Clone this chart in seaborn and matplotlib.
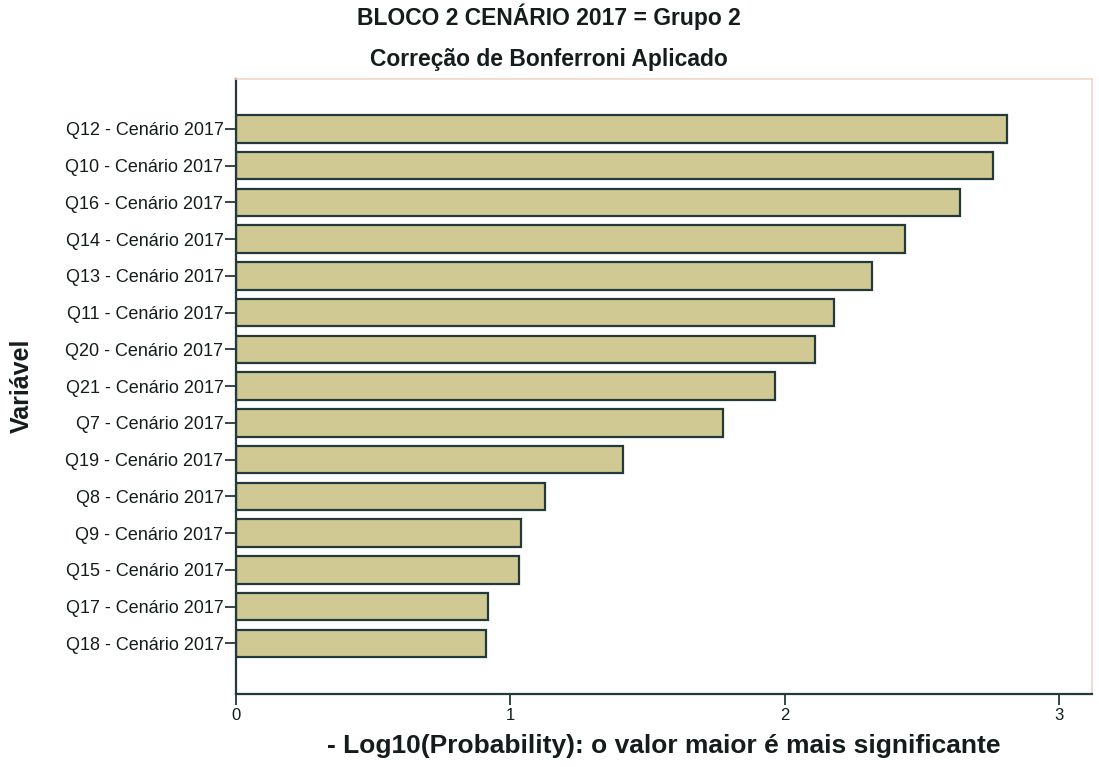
import pandas as pd
import numpy as np
import matplotlib.pyplot as plt
import seaborn as sns

# --- dados ---
variaveis = ['Q12 - Cenário 2017', 'Q10 - Cenário 2017', 'Q16 - Cenário 2017',
             'Q14 - Cenário 2017', 'Q13 - Cenário 2017', 'Q11 - Cenário 2017',
             'Q20 - Cenário 2017', 'Q21 - Cenário 2017', 'Q7 - Cenário 2017',
             'Q19 - Cenário 2017', 'Q8 - Cenário 2017', 'Q9 - Cenário 2017',
             'Q15 - Cenário 2017', 'Q17 - Cenário 2017', 'Q18 - Cenário 2017']
log_prob = [2.81, 2.76, 2.64, 2.44, 2.32, 2.18, 2.11, 1.965, 1.775,
            1.41, 1.125, 1.04, 1.03, 0.92, 0.91]
xticks = [0, 1, 2, 3]

titulo_1 = 'BLOCO 2 CENÁRIO 2017 = Grupo 2'
titulo_2 = 'Correção de Bonferroni Aplicado'
rotulo_x = '- Log10(Probability): o valor maior é mais significante'
rotulo_y = 'Variável'

cor_barra = '#d1c993'
cor_borda = '#233a3a'
cor_texto = '#141c1c'

df = pd.DataFrame({'Variavel': variaveis, 'Valor': log_prob})

sns.set_style('ticks')
plt.rcParams['font.family'] = ['Liberation Sans', 'DejaVu Sans']

fig = plt.figure(figsize=(10.99, 7.67), dpi=100)
ax = fig.add_axes([0.2147, 0.0952, 0.7789, 0.8018])

sns.barplot(data=df, x='Valor', y='Variavel', orient='h', order=variaveis,
            color=cor_barra, edgecolor=cor_borda, linewidth=1.6,
            width=0.75, saturation=1, ax=ax)

ax.set_xlim(0, 3.12)
ax.set_ylim(len(variaveis) - 1 + 1.38, -1.36)
ax.set_xticks(xticks)
ax.set_xticklabels([str(t) for t in xticks], fontsize=12, color=cor_texto)
ax.tick_params(axis='y', labelsize=13, labelcolor=cor_texto, length=8,
               width=1.3, color=cor_borda, pad=1)
ax.tick_params(axis='x', length=8, width=1.3, color=cor_borda, pad=2)

for lado in ['left', 'bottom']:
    ax.spines[lado].set_color(cor_borda)
    ax.spines[lado].set_linewidth(1.6)
for lado in ['top', 'right']:
    ax.spines[lado].set_visible(True)
    ax.spines[lado].set_color('#f3d6c8')
    ax.spines[lado].set_linewidth(1.2)

ax.set_xlabel(rotulo_x, fontsize=19, fontweight='bold', color=cor_texto, labelpad=8)
ax.set_ylabel('')
fig.text(0.020, 0.497, rotulo_y, rotation=90, fontsize=18, fontweight='bold',
         color=cor_texto, ha='center', va='center')

fig.text(0.499, 0.978, titulo_1, fontsize=16.5, fontweight='bold',
         color=cor_texto, ha='center', va='center')
fig.text(0.499, 0.922, titulo_2, fontsize=16.5, fontweight='bold',
         color=cor_texto, ha='center', va='center')

fig.savefig('out.png', dpi=100)
